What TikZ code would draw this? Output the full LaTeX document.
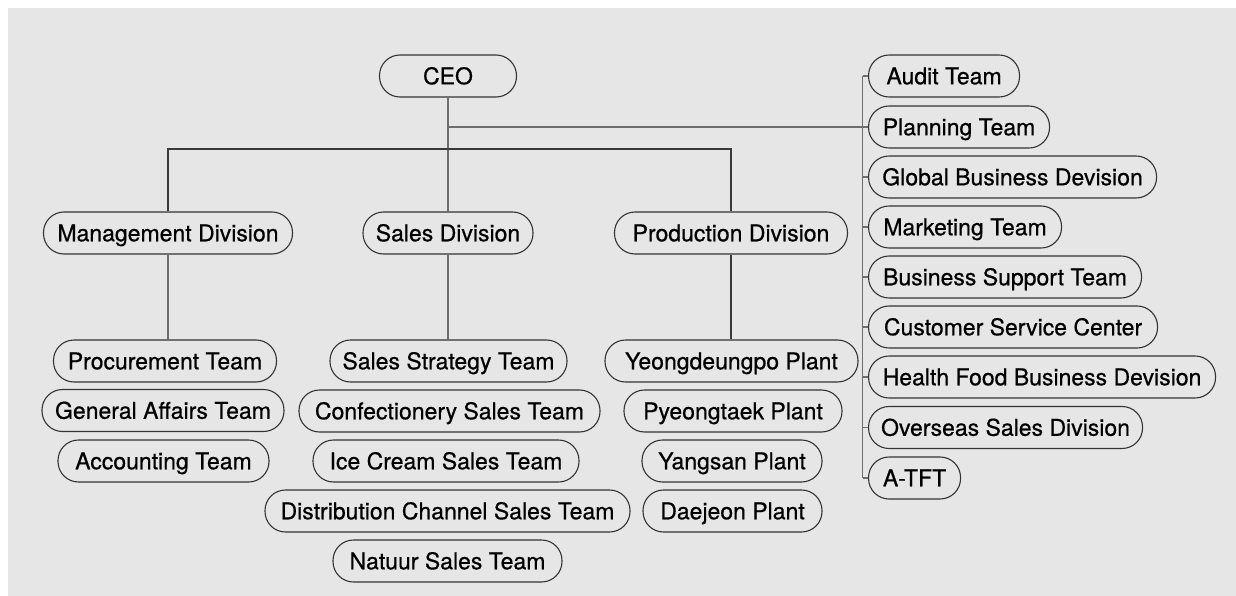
\documentclass[tikz,border=0pt]{standalone}
\usepackage{fontspec}
\setmainfont{TeX Gyre Heros}
\newfontfamily\boxfont{TeX Gyre Heros}[FakeBold=0.6]
\definecolor{bgcol}{HTML}{E6E6E6}
\definecolor{boxline}{HTML}{333333}
\definecolor{linkgray}{HTML}{6E6E6E}
\definecolor{barcol}{HTML}{3A3A3A}
\begin{document}
\begin{tikzpicture}[x=1pt,y=-1pt,
  box/.style={draw=boxline, line width=1.1pt, rounded corners=20.5pt,
    minimum height=42pt, inner sep=0pt, text height=16.5pt, text depth=0pt,
    font=\boxfont\fontsize{23}{27}\selectfont, text=black},
  rbox/.style={box, anchor=west},
  link/.style={draw=linkgray, line width=1.4pt},
  barline/.style={draw=barcol, line width=1.8pt}]
\useasboundingbox (0,0) rectangle (1236,596);
\fill[bgcol] (8,8) rectangle (1236,596);

% top
\node[box, minimum width=137pt] (CEO) at (448,76) {CEO};
% divisions
\node[box, minimum width=249pt] (Management) at (168,233) {Management Division};
\node[box, minimum width=170pt] (Sales) at (448,233) {Sales Division};
\node[box, minimum width=233pt] (Production) at (731,233) {Production Division};
% management teams
\node[box, minimum width=223pt] (Procurement) at (165,361) {Procurement Team};
\node[box, minimum width=242pt] (GeneralAffairs) at (163,410.5) {General Affairs Team};
\node[box, minimum width=211pt] (Accounting) at (163.5,461) {Accounting Team};
% sales teams
\node[box, minimum width=237pt] (SalesStrategy) at (448.5,361) {Sales Strategy Team};
\node[box, minimum width=301pt] (Confectionery) at (449.5,411) {Confectionery Sales Team};
\node[box, minimum width=266pt] (IceCream) at (446,461) {Ice Cream Sales Team};
\node[box, minimum width=365pt] (Distribution) at (447.5,511) {Distribution Channel Sales Team};
\node[box, minimum width=229pt] (Natuur) at (447.5,561) {Natuur Sales Team};
% plants
\node[box, minimum width=253pt] (Yeongdeungpo) at (731.5,361) {Yeongdeungpo Plant};
\node[box, minimum width=218pt] (Pyeongtaek) at (733,411) {Pyeongtaek Plant};
\node[box, minimum width=180pt] (Yangsan) at (732,461) {Yangsan Plant};
\node[box, minimum width=179pt] (Daejeon) at (732.5,511) {Daejeon Plant};
% staff column
\node[rbox, minimum width=151pt] (Audit) at (868,76) {Audit Team};
\node[rbox, minimum width=181pt] (Planning) at (868,127) {Planning Team};
\node[rbox, minimum width=288pt] (Global) at (868,177) {Global Business Devision};
\node[rbox, minimum width=193pt] (Marketing) at (868,227) {Marketing Team};
\node[rbox, minimum width=273pt] (BizSupport) at (868,277) {Business Support Team};
\node[rbox, minimum width=289pt] (Customer) at (868,327) {Customer Service Center};
\node[rbox, minimum width=347pt] (HealthFood) at (868,377) {Health Food Business Devision};
\node[rbox, minimum width=274pt] (Overseas) at (868,427.5) {Overseas Sales Division};
\node[rbox, minimum width=92pt] (ATFT) at (868,478) {A-TFT};

% helper coordinates
\coordinate (barY) at (0,149);
\coordinate (rbx) at (862.5,0);

% connectors
\draw[link] (CEO.south) -- (Sales.north);
\draw[link] (CEO.south |- Planning.west) -- (Planning.west -| rbx);
\draw[barline] (Management.north) -- (Management.north |- barY)
  -- (Production.north |- barY) -- (Production.north);
\draw[link] (Management.south) -- (Management.south |- Procurement.north);
\draw[link] (Sales.south) -- (Sales.south |- SalesStrategy.north);
\draw[barline] (Production.south) -- (Production.south |- Yeongdeungpo.north);
\draw[link] (Audit.west -| rbx) -- (ATFT.west -| rbx);
\foreach \n in {Audit,Planning,Global,Marketing,BizSupport,Customer,HealthFood,Overseas,ATFT}
  \draw[link] (\n.west -| rbx) -- (\n.west);
\end{tikzpicture}
\end{document}
